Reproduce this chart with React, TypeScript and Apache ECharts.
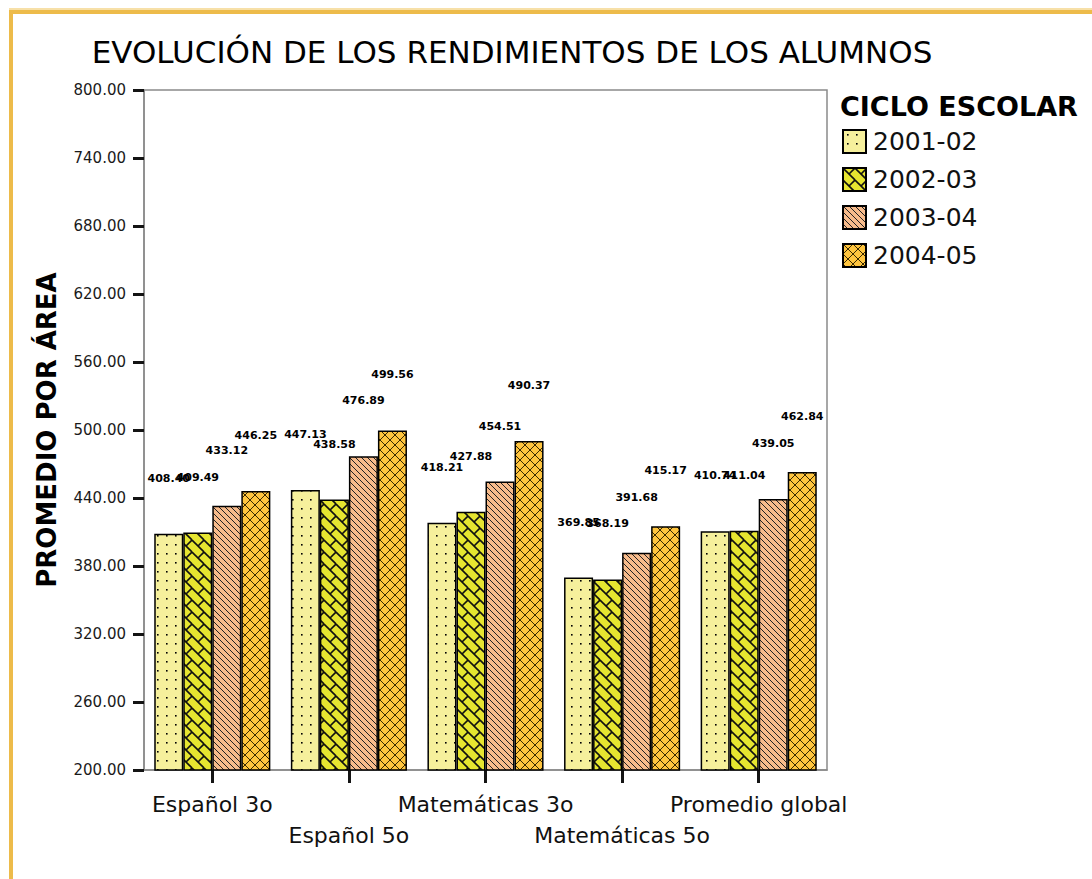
import React, { useEffect, useRef } from "react";
import * as echarts from "echarts";

const chartTitle = "EVOLUCIÓN DE LOS RENDIMIENTOS DE LOS ALUMNOS";
const yAxisName = "PROMEDIO POR ÁREA";
const legendTitle = "CICLO ESCOLAR";
const categories = ["Español 3o", "Español 5o", "Matemáticas 3o", "Matemáticas 5o", "Promedio global"];
const cycles = ["2001-02", "2002-03", "2003-04", "2004-05"];
const values2001 = [408.4, 447.13, 418.21, 369.85, 410.74];
const values2002 = [409.49, 438.58, 427.88, 368.19, 411.04];
const values2003 = [433.12, 476.89, 454.51, 391.68, 439.05];
const values2004 = [446.25, 499.56, 490.37, 415.17, 462.84];
const yMin = 200;
const yMax = 800;
const yStep = 60;

type Seg = [number, number, number, number];

function makeTile(size: number, bg: string, segs: Seg[], lineColor: string, lineWidth: number, dots?: [number, number][]) {
  const c = document.createElement("canvas");
  c.width = size;
  c.height = size;
  const ctx = c.getContext("2d")!;
  ctx.fillStyle = bg;
  ctx.fillRect(0, 0, size, size);
  ctx.strokeStyle = lineColor;
  ctx.lineWidth = lineWidth;
  for (const dx of [-size, 0, size]) {
    for (const dy of [-size, 0, size]) {
      for (const s of segs) {
        ctx.beginPath();
        ctx.moveTo(s[0] + dx, s[1] + dy);
        ctx.lineTo(s[2] + dx, s[3] + dy);
        ctx.stroke();
      }
    }
  }
  if (dots) {
    ctx.fillStyle = lineColor;
    for (const d of dots) ctx.fillRect(d[0], d[1], 1.6, 1.6);
  }
  return { image: c, repeat: "repeat", imageWidth: size, imageHeight: size };
}

export default function App() {
  const ref = useRef<HTMLDivElement>(null);
  useEffect(() => {
    if (!ref.current) return;
    const chart = echarts.init(ref.current, null, { renderer: "svg" });

    const pDots = makeTile(9, "#F6F09C", [], "#000", 1, [[4, 4]]);
    const pBrick = makeTile(12, "#E6E530", [[0, 0, 12, 12], [6, 6, 12, 0]], "#111", 1.6);
    const pDiag = makeTile(6, "#F7BB8B", [[0, 0, 6, 6]], "#222", 1);
    const pCross = makeTile(10, "#FFC53F", [[0, 0, 10, 10], [10, 0, 0, 10]], "#3a2a00", 1);
    const patterns = [pDots, pBrick, pDiag, pCross];
    const allValues = [values2001, values2002, values2003, values2004];

    const font = "DejaVu Sans";
    const tickColor = "#141414";

    const series = cycles.map((name, i) => ({
      name,
      type: "bar",
      data: allValues[i],
      barGap: "0%",
      barCategoryGap: "15%",
      itemStyle: { color: patterns[i] as any, borderColor: "#000", borderWidth: 1.5 },
      label: {
        show: true,
        position: "top",
        distance: 50,
        formatter: (p: any) => Number(p.value).toFixed(2),
        fontFamily: font,
        fontWeight: "bold",
        fontSize: 11,
        color: "#000",
      },
    }));

    chart.setOption({
      animation: false,
      backgroundColor: "#fff",
      grid: { left: 144, right: 265, top: 90, bottom: 109, show: true, borderColor: "#8a8a8a", borderWidth: 1.5 },
      xAxis: {
        type: "category",
        data: categories,
        axisLine: { lineStyle: { color: "#8a8a8a", width: 1.5 } },
        axisTick: { show: true, alignWithLabel: true, length: 13, lineStyle: { color: tickColor, width: 3 } },
        axisLabel: {
          interval: 0,
          margin: 19,
          fontFamily: font,
          fontSize: 22,
          lineHeight: 31,
          color: "#111",
          formatter: (v: string, idx: number) => (idx % 2 === 1 ? "\n" + v : v),
        },
      },
      yAxis: {
        type: "value",
        min: yMin,
        max: yMax,
        interval: yStep,
        name: yAxisName,
        nameLocation: "middle",
        nameGap: 84,
        nameTextStyle: { fontFamily: font, fontWeight: "bold", fontSize: 26, color: "#000" },
        axisLine: { show: true, lineStyle: { color: "#8a8a8a", width: 1.5 } },
        axisTick: { show: true, length: 11, lineStyle: { color: tickColor, width: 3 } },
        splitLine: { show: false },
        axisLabel: {
          margin: 18,
          fontFamily: font,
          fontSize: 15,
          color: "#1a1a1a",
          formatter: (v: number) => v.toFixed(2),
        },
      },
      legend: {
        orient: "vertical",
        left: 837,
        top: 124,
        itemWidth: 23,
        itemHeight: 23,
        itemGap: 13,
        icon: "rect",
        data: cycles,
        textStyle: { fontFamily: font, fontSize: 25, color: "#111", padding: [0, 0, 0, 2] },
      },
      graphic: [
        { type: "rect", shape: { x: 9, y: 8, width: 1083, height: 2 }, style: { fill: "#F7E0A8" }, silent: true },
        { type: "rect", shape: { x: 9, y: 10, width: 1083, height: 4 }, style: { fill: "#EDBB4A" }, silent: true },
        { type: "rect", shape: { x: 9, y: 10, width: 4, height: 869 }, style: { fill: "#EDBB4A" }, silent: true },
        {
          type: "text",
          x: 512,
          y: 52,
          style: { text: chartTitle, fontFamily: font, fontSize: 31, fill: "#000", textAlign: "center", textVerticalAlign: "middle" },
        },
        {
          type: "text",
          x: 840,
          y: 106,
          style: { text: legendTitle, fontFamily: font, fontWeight: "bold", fontSize: 27, fill: "#000", textAlign: "left", textVerticalAlign: "middle" },
        },
      ],
      series,
    } as any);

    return () => chart.dispose();
  }, []);

  return <div ref={ref} style={{ position: "absolute", left: 0, top: 0, width: 1092, height: 879, background: "#fff" }} />;
}
